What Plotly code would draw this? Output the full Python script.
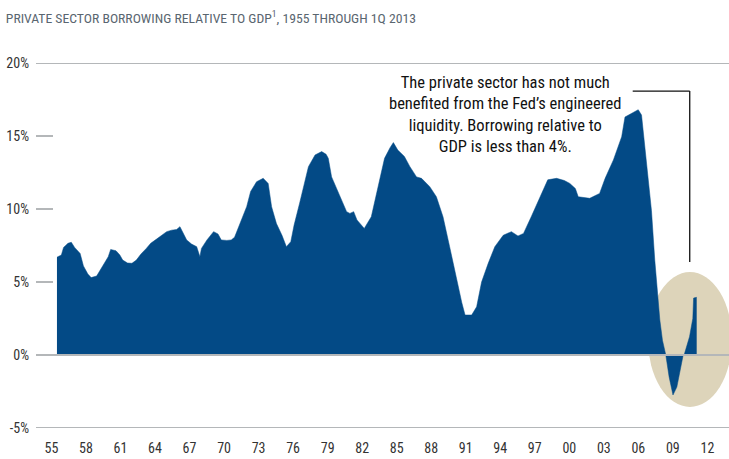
import plotly.graph_objects as go

# ---- data (decimal year, % of GDP) ----
years = [1955.0, 1955.4, 1955.6, 1956.0, 1956.3, 1956.6, 1957.1, 1957.4, 1957.8, 1958.1,
         1958.6, 1959.2, 1959.65, 1959.87, 1960.35, 1960.7, 1960.96, 1961.4, 1961.8, 1962.2,
         1962.6, 1963.1, 1963.5, 1964.0, 1964.5, 1964.95, 1965.4, 1965.85, 1966.15, 1966.45,
         1966.76, 1967.2, 1967.67, 1967.96, 1968.1, 1968.6, 1969.2, 1969.6, 1969.9, 1970.4,
         1970.8, 1971.1, 1971.6, 1972.2, 1972.56, 1973.1, 1973.7, 1974.15, 1974.46, 1974.9,
         1975.4, 1975.8, 1976.2, 1976.5, 1977.0, 1977.4, 1977.8, 1978.4, 1979.0, 1979.4,
         1979.6, 1979.9, 1980.3, 1980.66, 1981.0, 1981.26, 1981.56, 1981.9, 1982.2, 1982.86,
         1983.5, 1984.1, 1984.7, 1985.2, 1985.5, 1985.9, 1986.5, 1987.0, 1987.6, 1988.05,
         1988.8, 1989.4, 1990.0, 1990.6, 1991.0, 1991.4, 1991.7, 1992.0, 1992.6, 1993.05,
         1993.5, 1994.1, 1994.7, 1995.46, 1996.2, 1996.8, 1997.3, 1998.0, 1998.8, 1999.5,
         2000.3, 2001.0, 2001.5, 2002.0, 2002.26, 2003.3, 2004.2, 2004.7, 2005.45, 2006.2,
         2006.5, 2007.2, 2007.7, 2008.0, 2008.6, 2008.9, 2009.2, 2009.66, 2009.9, 2010.2,
         2010.5, 2010.85, 2011.2, 2011.45, 2011.75, 2011.9, 2012.35, 2012.65, 2012.72, 2013.0]
borrowing = [6.7, 6.85, 7.37, 7.65, 7.72, 7.37, 6.96, 6.1, 5.55, 5.3,
             5.41, 6.16, 6.73, 7.23, 7.14, 6.85, 6.5, 6.3, 6.28, 6.5,
             6.9, 7.3, 7.65, 7.92, 8.2, 8.45, 8.55, 8.6, 8.79, 8.35,
             7.88, 7.6, 7.42, 6.73, 7.3, 7.88, 8.45, 8.29, 7.88, 7.85,
             7.88, 8.06, 9.0, 10.16, 11.2, 11.87, 12.1, 11.75, 10.16, 9.0,
             8.2, 7.42, 7.76, 8.9, 10.4, 11.7, 12.9, 13.7, 13.93, 13.75,
             13.47, 12.2, 11.5, 10.84, 10.3, 9.82, 9.7, 9.82, 9.25, 8.67,
             9.47, 11.5, 13.47, 14.2, 14.55, 14.04, 13.6, 12.9, 12.2, 12.1,
             11.53, 10.84, 9.47, 7.42, 6.0, 4.68, 3.6, 2.74, 2.74, 3.3,
             5.0, 6.28, 7.42, 8.2, 8.45, 8.15, 8.33, 9.47, 10.84, 12.0,
             12.1, 11.95, 11.75, 11.4, 10.84, 10.73, 11.07, 12.1, 13.36, 14.95,
             16.3, 16.6, 16.8, 16.44, 12.1, 9.9, 6.5, 2.4, 1.0, 0.0,
             -1.5, -2.74, -2.2, -1.25, -0.1, 0.1, 1.25, 2.5, 3.9, 3.95]

tick_labels = ["55", "58", "61", "64", "67", "70", "73", "76", "79", "82",
               "85", "88", "91", "94", "97", "00", "03", "06", "09", "12"]
y_ticks = [-5, 0, 5, 10, 15, 20]
y_tick_labels = ["-5%", "0%", "5%", "10%", "15%", "20%"]

title_text = "PRIVATE SECTOR BORROWING RELATIVE TO GDP<sup>1</sup>, 1955 THROUGH 1Q 2013"
note_text = ("The private sector has not much<br>benefited from the Fed’s engineered<br>"
             "liquidity. Borrowing relative to<br>GDP is less than 4%.")

BLUE = "#034a86"
GRID = "#b4b7b9"
FONT = "Roboto Condensed, Roboto, sans-serif"

tick_vals = [1954.5 + i * 3.13 for i in range(len(tick_labels))]

fig = go.Figure()
fig.add_trace(go.Scatter(
    x=years, y=borrowing, mode="lines", fill="tozeroy",
    fillcolor=BLUE, line=dict(color=BLUE, width=0.5),
    hoverinfo="skip", showlegend=False))

shapes = [
    dict(type="circle", xref="x", yref="y", x0=2008.58, x1=2016.2, y0=-3.56, y1=5.68,
         fillcolor="#ddd4ba", line=dict(width=0), layer="below"),
    dict(type="line", xref="paper", yref="y", x0=0, x1=1, y0=20, y1=20,
         line=dict(color=GRID, width=2), layer="above"),
    dict(type="line", xref="paper", yref="y", x0=0, x1=1, y0=0, y1=0,
         line=dict(color=GRID, width=2), layer="above"),
    dict(type="line", xref="paper", yref="y", x0=0, x1=1, y0=-5, y1=-5,
         line=dict(color=GRID, width=2), layer="above"),
    dict(type="line", xref="x", yref="y", x0=2007.2, x1=2012.37, y0=18.08, y1=18.08,
         line=dict(color="#111111", width=1.3)),
    dict(type="line", xref="x", yref="y", x0=2012.37, x1=2012.37, y0=18.08, y1=6.37,
         line=dict(color="#111111", width=1.3)),
]

fig.update_layout(
    width=729, height=459,
    margin=dict(l=36, r=0, t=63, b=31),
    paper_bgcolor="white", plot_bgcolor="white",
    font=dict(family=FONT, color="#333333"),
    shapes=shapes,
    title=dict(text=title_text, x=0.008, xanchor="left", y=0.96, yanchor="middle",
               font=dict(family=FONT, size=13.7, color="#5a6670")),
    xaxis=dict(range=[1953.1, 2015.93], tickvals=tick_vals, ticktext=tick_labels,
               showgrid=False, zeroline=False, showline=False,
               ticks="outside", ticklen=7, tickcolor="rgba(0,0,0,0)",
               tickfont=dict(size=14, color="#333333", family=FONT)),
    yaxis=dict(range=[-5, 20], tickvals=y_ticks, ticktext=y_tick_labels,
               showgrid=False, zeroline=False, showline=False,
               ticks="inside", ticklen=17, tickwidth=2, tickcolor=GRID,
               ticklabelstandoff=6,
               tickfont=dict(size=14, color="#333333", family=FONT)),
    annotations=[dict(text=note_text, xref="paper", yref="paper",
                      x=(505 - 36) / 693, y=(459 - 31 - 114) / 365,
                      xanchor="center", yanchor="middle", showarrow=False,
                      align="center",
                      font=dict(family=FONT, size=16.5, color="#111111"))],
)

fig.write_html("out.html")
